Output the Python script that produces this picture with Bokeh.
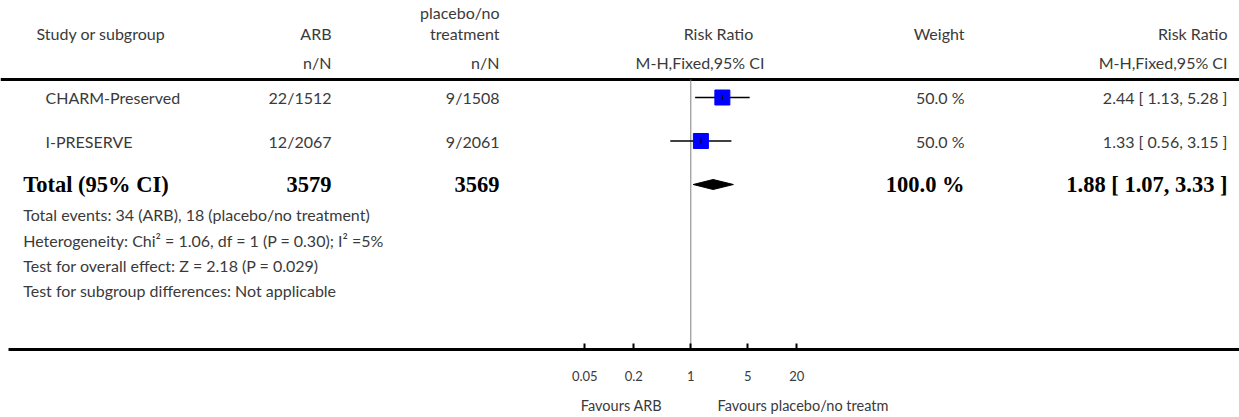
from bokeh.plotting import figure
from bokeh.models import (Range1d, LinearScale, ColumnDataSource, LinearAxis,
                          FixedTicker, CustomJSTickFormatter)
from bokeh.core.properties import value
from bokeh.embed import file_html
from bokeh.resources import INLINE

# ---- data -------------------------------------------------------------
studies = ["CHARM-Preserved", "I-PRESERVE"]
arb_events = [22, 12]
arb_totals = [1512, 2067]
ctl_events = [9, 9]
ctl_totals = [1508, 2061]
risk_ratio = [2.44, 1.33]
ci_low = [1.13, 0.56]
ci_high = [5.28, 3.15]
weight_pct = [50.0, 50.0]

pooled_rr = 1.88
pooled_low = 1.07
pooled_high = 3.33
pooled_weight = 100.0
pooled_arb_total = 3579
pooled_ctl_total = 3569

axis_ticks = [0.05, 0.2, 1, 5, 20]
favours_labels = ["Favours ARB", "Favours placebo/no treatm"]

footnotes = [
    "Total events: 34 (ARB), 18 (placebo/no treatment)",
    "Heterogeneity: Chi\u00b2 = 1.06, df = 1 (P = 0.30); I\u00b2 =5%",
    "Test for overall effect: Z = 2.18 (P = 0.029)",
    "Test for subgroup differences: Not applicable",
]

# ---- layout -----------------------------------------------------------
W, H = 1239, 417
FRAME_H = 349          # bottom of the plotting frame (axis line)
NULL_PX = 690.3        # pixel position of RR = 1
DECADE_PX = 81.5       # pixels per decade on the log axis
x_lo = 10 ** (-NULL_PX / DECADE_PX)
x_hi = 10 ** ((W - NULL_PX) / DECADE_PX)


def px_to_x(px):
    return 10 ** ((px - NULL_PX) / DECADE_PX)


HEADER_LINE_Y = 79
row_y = [97, 140.5]
total_y = 184
foot_y = [214, 240, 265, 290]
favours_px = [621, 802.5]

SANS = value("Lato")
SERIF = value("Liberation Serif")
TXT = "#3a3a3a"
SANS_SIZE = "16px"

p = figure(width=W, height=H, x_axis_type="log",
           x_range=Range1d(x_lo, x_hi), y_range=Range1d(FRAME_H, 0),
           y_axis_location=None, output_backend="svg", toolbar_location=None,
           min_border_left=0, min_border_right=0, min_border_top=0,
           min_border_bottom=H - FRAME_H)
p.extra_x_ranges = {"px": Range1d(0, W)}
p.extra_x_scales = {"px": LinearScale()}
p.xgrid.visible = False
p.ygrid.visible = False
p.outline_line_color = None
p.background_fill_color = "white"
p.border_fill_color = "white"

# ---- log axis ---------------------------------------------------------
ax = p.xaxis[0]
ax.ticker = FixedTicker(ticks=axis_ticks, minor_ticks=[])
ax.formatter = CustomJSTickFormatter(code="return tick.toString()")
ax.bounds = (px_to_x(8), x_hi)
ax.axis_line_width = 3
ax.axis_line_color = "black"
ax.major_tick_in = 6
ax.major_tick_out = 0
ax.major_tick_line_width = 2
ax.major_tick_line_color = "black"
ax.minor_tick_line_color = None
ax.major_label_text_font = "Lato"
ax.major_label_text_font_size = "13px"
ax.major_label_text_color = TXT
ax.major_label_standoff = 21

# second row under the axis: the "favours" captions
fav_axis = LinearAxis(
    x_range_name="px",
    ticker=FixedTicker(ticks=favours_px, minor_ticks=[]),
    formatter=CustomJSTickFormatter(args=dict(labels=favours_labels),
                                    code="return labels[index]"),
    axis_line_color=None, major_tick_line_color=None,
    minor_tick_line_color=None,
    major_label_text_font="Lato", major_label_text_font_size="14.5px",
    major_label_text_color=TXT, major_label_standoff=7)
p.add_layout(fav_axis, "below")

# ---- rules ------------------------------------------------------------
p.segment(x0=[0], x1=[W], y0=[HEADER_LINE_Y], y1=[HEADER_LINE_Y],
          line_color="black", line_width=3, x_range_name="px")
p.segment(x0=[1], x1=[1], y0=[HEADER_LINE_Y], y1=[FRAME_H],
          line_color="#808080", line_width=1)

# ---- study markers ----------------------------------------------------
src = ColumnDataSource(dict(rr=risk_ratio, lo=ci_low, hi=ci_high, y=row_y))
p.segment(x0="lo", x1="hi", y0="y", y1="y", source=src,
          line_color="black", line_width=1.5)
p.scatter(x="rr", y="y", source=src, marker="square", size=15,
          fill_color="#0000ff", line_color="#0000ff")
p.scatter(x="rr", y="y", source=src, marker="dash", angle=1.5708, size=5,
          line_color="black", line_width=1)

# pooled diamond
half_h = 5
p.patch(x=[pooled_low, pooled_rr, pooled_high, pooled_rr],
        y=[total_y, total_y - half_h, total_y, total_y + half_h],
        fill_color="black", line_color="black")

# ---- table text -------------------------------------------------------


def put(xs, ys, texts, align, font=SANS, size=SANS_SIZE, style="normal",
        color=TXT):
    s = ColumnDataSource(dict(x=xs, y=ys, t=texts))
    p.text(x="x", y="y", text="t", source=s, x_range_name="px",
           text_font=font, text_font_size=size, text_font_style=style,
           text_align=align, text_baseline="middle", text_color=color)


# headers
put([36], [33], ["Study or subgroup"], "left")
put([331, 331], [33, 62], ["ARB", "n/N"], "right")
put([499, 499, 499], [12, 33, 62], ["placebo/no", "treatment", "n/N"], "right")
put([718], [33], ["Risk Ratio"], "center")
put([699.5], [62], ["M-H,Fixed,95% CI"], "center")
put([964], [33], ["Weight"], "right")
put([1227, 1227], [33, 62], ["Risk Ratio", "M-H,Fixed,95% CI"], "right")

# study rows
put([45] * len(studies), row_y, studies, "left")
put([331] * len(studies), row_y,
    [f"{e}/{n}" for e, n in zip(arb_events, arb_totals)], "right")
put([499] * len(studies), row_y,
    [f"{e}/{n}" for e, n in zip(ctl_events, ctl_totals)], "right")
put([964] * len(studies), row_y, [f"{w:.1f} %" for w in weight_pct], "right")
put([1227] * len(studies), row_y,
    [f"{r:.2f} [ {a:.2f}, {b:.2f} ]" for r, a, b in zip(risk_ratio, ci_low, ci_high)],
    "right")

# pooled row
BOLD = dict(font=SERIF, size="22.5px", style="bold", color="black")
put([22.7], [total_y], ["Total (95% CI)"], "left", **BOLD)
put([331], [total_y], [str(pooled_arb_total)], "right", **BOLD)
put([499], [total_y], [str(pooled_ctl_total)], "right", **BOLD)
put([964], [total_y], [f"{pooled_weight:.1f} %"], "right", **BOLD)
put([1227], [total_y],
    [f"{pooled_rr:.2f} [ {pooled_low:.2f}, {pooled_high:.2f} ]"], "right", **BOLD)

# footnotes
put([22.7] * len(footnotes), foot_y, footnotes, "left")

open("out.html", "w").write(file_html(p, INLINE))
